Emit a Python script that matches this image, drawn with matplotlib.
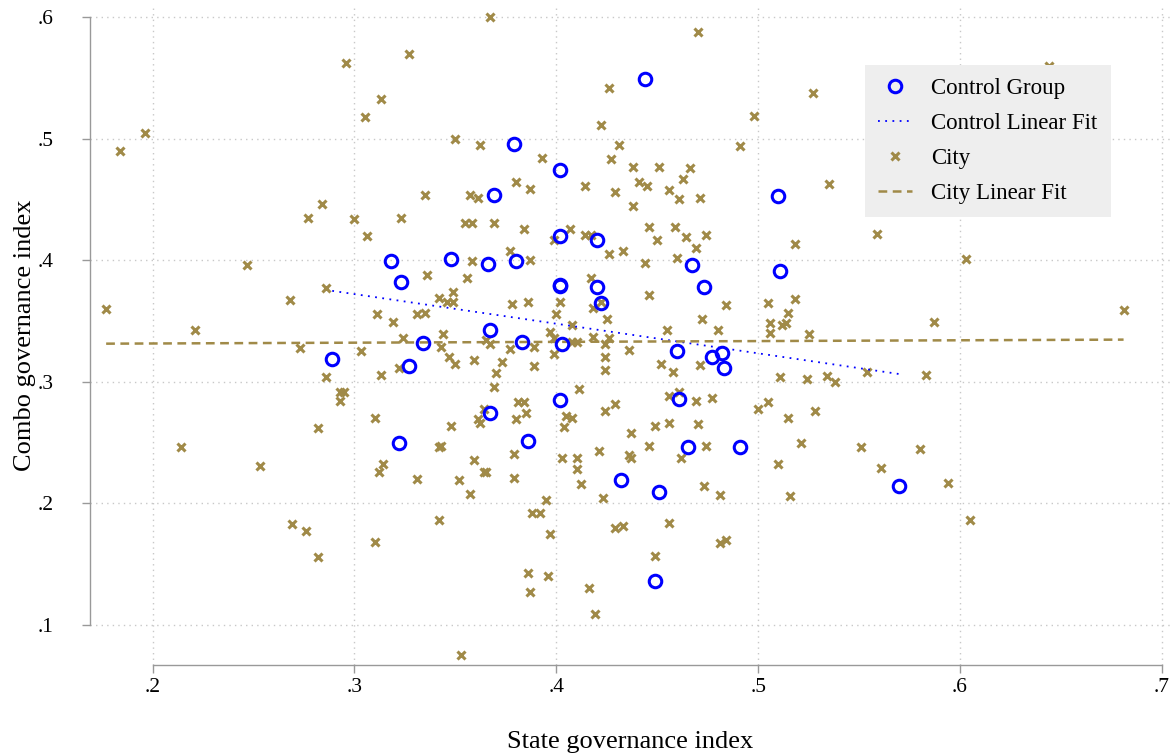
import numpy as np
import matplotlib
matplotlib.use("Agg")
import matplotlib.pyplot as plt
from matplotlib.ticker import FuncFormatter, FixedLocator

plt.rcParams["font.family"] = ["Liberation Serif", "DejaVu Serif"]

# ---- data ----------------------------------------------------------------
city_x = [
    0.367, 0.470, 0.327, 0.296, 0.426, 0.527, 0.313, 0.498, 0.305, 0.422,
    0.196, 0.350, 0.491, 0.362, 0.431, 0.184, 0.393, 0.427, 0.438, 0.451,
    0.466, 0.463, 0.380, 0.441, 0.535, 0.414, 0.445, 0.387, 0.456, 0.429,
    0.335, 0.357, 0.361, 0.461, 0.471, 0.284, 0.438, 0.277, 0.300, 0.323,
    0.644,
    0.306, 0.355, 0.358, 0.369, 0.384, 0.399, 0.407, 0.414, 0.417, 0.426,
    0.433, 0.377, 0.387, 0.358, 0.336, 0.356, 0.417, 0.349, 0.342, 0.346,
    0.349, 0.378, 0.386, 0.402, 0.418, 0.422, 0.311, 0.331, 0.335, 0.400,
    0.319, 0.425, 0.408, 0.397, 0.324, 0.344, 0.365, 0.367, 0.343, 0.399,
    0.408, 0.410, 0.418, 0.424, 0.426, 0.303, 0.377, 0.389, 0.347, 0.350,
    0.359, 0.373, 0.399, 0.389, 0.424, 0.424, 0.322, 0.313, 0.370, 0.369,
    0.411, 0.429, 0.424, 0.381, 0.384, 0.364, 0.385, 0.361, 0.362, 0.380,
    0.405, 0.408, 0.404, 0.310, 0.348,
    0.247, 0.286, 0.268, 0.177, 0.221, 0.273, 0.286, 0.293, 0.295, 0.293,
    0.282,
    0.446, 0.459, 0.450, 0.464, 0.474, 0.469, 0.460, 0.444, 0.559, 0.518,
    0.446, 0.484, 0.505, 0.518, 0.515, 0.472, 0.506, 0.512, 0.514, 0.506,
    0.525, 0.455, 0.480, 0.436, 0.452, 0.471, 0.458, 0.554, 0.511, 0.524,
    0.534, 0.538, 0.461, 0.456, 0.469, 0.477, 0.505, 0.500, 0.528, 0.515,
    0.449, 0.456, 0.470,
    0.603, 0.587, 0.681, 0.583,
    0.214, 0.253, 0.269, 0.276, 0.282,
    0.342, 0.343, 0.314, 0.312, 0.331, 0.359, 0.364, 0.365, 0.379, 0.352,
    0.379, 0.357, 0.403, 0.410, 0.421, 0.410, 0.412, 0.423, 0.395, 0.388,
    0.392, 0.397, 0.342, 0.310, 0.386, 0.396, 0.387, 0.416, 0.419, 0.353,
    0.429, 0.433,
    0.437, 0.446, 0.436, 0.437, 0.462, 0.474, 0.473, 0.481, 0.510, 0.521,
    0.551, 0.561, 0.516, 0.456, 0.481, 0.484, 0.449,
    0.580, 0.594, 0.605,
]
city_y = [
    0.600, 0.588, 0.570, 0.562, 0.542, 0.538, 0.533, 0.519, 0.518, 0.511,
    0.505, 0.500, 0.494, 0.495, 0.495, 0.490, 0.484, 0.483, 0.477, 0.477,
    0.476, 0.467, 0.464, 0.464, 0.463, 0.461, 0.461, 0.459, 0.458, 0.456,
    0.454, 0.454, 0.451, 0.450, 0.451, 0.446, 0.445, 0.435, 0.434, 0.435,
    0.560,
    0.420, 0.431, 0.431, 0.431, 0.426, 0.417, 0.426, 0.421, 0.421, 0.405,
    0.408, 0.408, 0.400, 0.399, 0.388, 0.385, 0.385, 0.374, 0.369, 0.366,
    0.366, 0.364, 0.366, 0.366, 0.361, 0.366, 0.356, 0.356, 0.357, 0.356,
    0.349, 0.352, 0.347, 0.341, 0.336, 0.339, 0.334, 0.331, 0.329, 0.336,
    0.333, 0.333, 0.337, 0.331, 0.336, 0.325, 0.327, 0.329, 0.320, 0.315,
    0.318, 0.316, 0.323, 0.313, 0.320, 0.310, 0.311, 0.306, 0.307, 0.296,
    0.294, 0.282, 0.276, 0.283, 0.283, 0.278, 0.274, 0.269, 0.266, 0.269,
    0.272, 0.270, 0.263, 0.270, 0.264,
    0.396, 0.377, 0.367, 0.360, 0.343, 0.328, 0.304, 0.292, 0.292, 0.284,
    0.262,
    0.427, 0.427, 0.417, 0.419, 0.421, 0.410, 0.402, 0.398, 0.422, 0.413,
    0.371, 0.363, 0.365, 0.368, 0.357, 0.352, 0.348, 0.347, 0.348, 0.340,
    0.339, 0.343, 0.343, 0.326, 0.315, 0.314, 0.308, 0.308, 0.304, 0.302,
    0.305, 0.300, 0.292, 0.288, 0.284, 0.287, 0.283, 0.278, 0.276, 0.270,
    0.264, 0.266, 0.265,
    0.401, 0.349, 0.359, 0.306,
    0.246, 0.231, 0.183, 0.177, 0.156,
    0.246, 0.247, 0.232, 0.226, 0.220, 0.236, 0.226, 0.226, 0.241, 0.219,
    0.221, 0.208, 0.237, 0.237, 0.243, 0.228, 0.216, 0.204, 0.203, 0.192,
    0.192, 0.175, 0.186, 0.168, 0.143, 0.140, 0.127, 0.130, 0.109, 0.075,
    0.180, 0.181,
    0.258, 0.247, 0.240, 0.237, 0.237, 0.247, 0.214, 0.207, 0.232, 0.250,
    0.246, 0.229, 0.206, 0.184, 0.167, 0.170, 0.157,
    0.245, 0.217, 0.186,
]

ctrl_x = [
    0.379, 0.402, 0.369, 0.444, 0.510, 0.318, 0.348, 0.366, 0.380, 0.402,
    0.420, 0.402, 0.402, 0.420, 0.422, 0.323, 0.367, 0.383, 0.403, 0.334,
    0.327, 0.402, 0.367, 0.289, 0.467, 0.473, 0.511, 0.460, 0.477, 0.482,
    0.483, 0.461, 0.322, 0.386, 0.432, 0.465, 0.491, 0.451, 0.449, 0.570,
]
ctrl_y = [
    0.496, 0.474, 0.454, 0.549, 0.453, 0.399, 0.401, 0.397, 0.399, 0.420,
    0.417, 0.380, 0.379, 0.378, 0.365, 0.382, 0.343, 0.333, 0.331, 0.332,
    0.313, 0.285, 0.274, 0.319, 0.396, 0.378, 0.391, 0.325, 0.320, 0.324,
    0.311, 0.286, 0.250, 0.251, 0.219, 0.246, 0.246, 0.209, 0.136, 0.214,
]

# city fit as drawn in the original (slope, intercept)
city_fit = [0.0066, 0.3302]

x_ticks = [0.2, 0.3, 0.4, 0.5, 0.6, 0.7]
y_ticks = [0.1, 0.2, 0.3, 0.4, 0.5, 0.6]

color_ctrl = "#0000FF"
color_city = "#A08A48"

# ---- linear fits ------------------------------------------------------------
cx = np.array(ctrl_x); cy = np.array(ctrl_y)
kx = np.array(city_x); ky = np.array(city_y)
c_slope, c_int = np.polyfit(cx, cy, 1)
k_slope, k_int = city_fit
c_line_x = np.array([cx.min(), cx.max()])
k_line_x = np.array([kx.min(), kx.max()])

# ---- figure -------------------------------------------------------------------
fig = plt.figure(figsize=(11.75, 7.55), dpi=100)
ax = fig.add_axes([90 / 1175, 90 / 755, 1080 / 1175, 660 / 755])

ax.plot(cx, cy, linestyle="none", marker="o", markersize=9,
        markerfacecolor="none", markeredgecolor=color_ctrl,
        markeredgewidth=2.2, label="Control Group", zorder=4)
ax.plot(c_line_x, c_int + c_slope * c_line_x, color=color_ctrl,
        linewidth=1.3, linestyle=(0, (1, 3)), label="Control Linear Fit", zorder=3)
ax.plot(kx, ky, linestyle="none", marker="x", markersize=5.5,
        markeredgewidth=2.2, color=color_city, label="City", zorder=2)
ax.plot(k_line_x, k_int + k_slope * k_line_x, color=color_city,
        linewidth=1.8, linestyle=(0, (3.5, 2.2)), label="City Linear Fit", zorder=3)

ax.set_xlim(0.169, 0.704)
ax.set_ylim(0.067, 0.61)

ax.xaxis.set_major_locator(FixedLocator(x_ticks))
ax.yaxis.set_major_locator(FixedLocator(y_ticks))
fmt = FuncFormatter(lambda v, p: f"{v:.1f}".lstrip("0"))
ax.xaxis.set_major_formatter(fmt)
ax.yaxis.set_major_formatter(fmt)

ax.grid(True, color="#c8c8c8", linestyle=(0, (1, 3)), linewidth=1.0)
ax.set_axisbelow(True)
for side in ["top", "right"]:
    ax.spines[side].set_visible(False)
for side in ["left", "bottom"]:
    ax.spines[side].set_color("#999999")
    ax.spines[side].set_linewidth(1.0)
ax.spines["left"].set_bounds(y_ticks[0], y_ticks[-1])
ax.spines["bottom"].set_bounds(x_ticks[0], x_ticks[-1])
ax.tick_params(axis="both", colors="#999999", labelcolor="black",
               labelsize=15.5, length=6, width=1.0, direction="out")
ax.tick_params(axis="y", pad=20)

ax.set_xlabel("State governance index", fontsize=19, labelpad=24)
ax.set_ylabel("Combo governance index", fontsize=19, labelpad=1)

leg = ax.legend(loc="upper left", bbox_to_anchor=(0.7176, 0.909),
                borderaxespad=0, fontsize=16.5, frameon=True, fancybox=False,
                facecolor="#eeeeee", edgecolor="none", framealpha=1,
                handlelength=1.45, handletextpad=0.85, labelspacing=0.6,
                borderpad=0.58)
leg.set_zorder(10)

fig.savefig("out.png", dpi=100)
